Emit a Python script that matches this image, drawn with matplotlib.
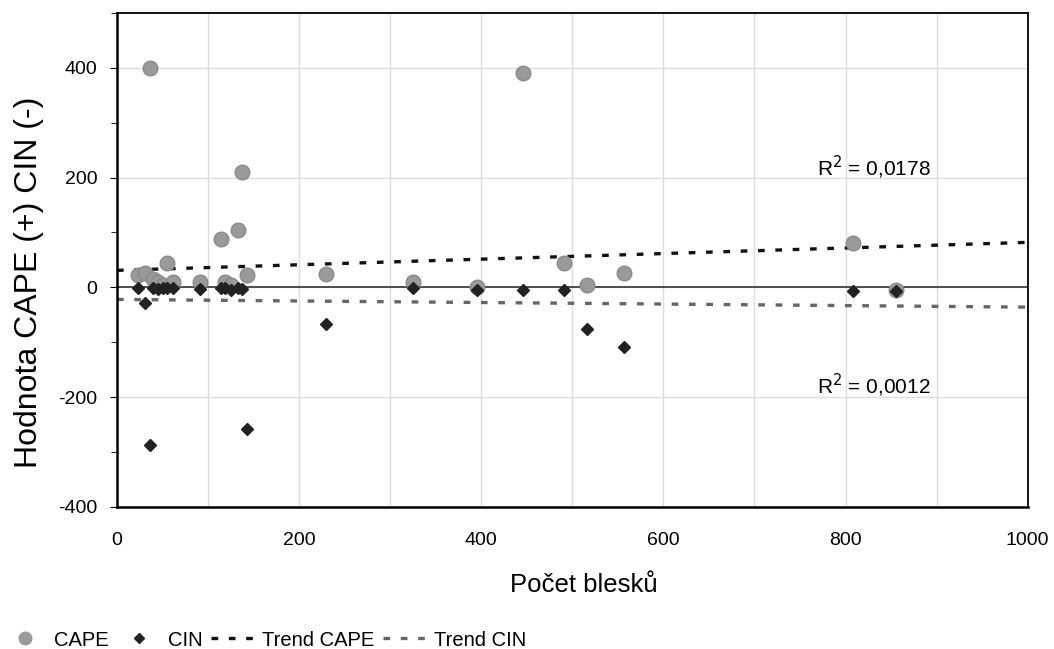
import numpy as np
import matplotlib.pyplot as plt
from matplotlib.lines import Line2D

plt.rcParams['font.family'] = ['Liberation Sans', 'DejaVu Sans']
plt.rcParams['axes.unicode_minus'] = False

# pocet blesku, CAPE (+) a CIN (-)
blesky = [23, 31, 36, 40, 45, 50, 55, 61, 91, 114, 119, 125, 133, 137, 143,
          230, 325, 395, 446, 491, 516, 557, 808, 855]
cape = [22, 27, 400, 15, 10, 5, 44, 9, 9, 89, 9, 5, 104, 210, 22,
        25, 9, 0, 390, 45, 4, 27, 80, -5]
cin = [-1, -28, -287, -2, -3, -1, -2, -1, -3, -2, -1, -4, -2, -3, -258,
       -67, -2, -4, -4, -4, -75, -108, -7, -7]

# trend (intercept, slope) as shown in the chart
trend_cape = (31, 0.051)
trend_cin = (-22, -0.014)
r2_cape = '0,0178'
r2_cin = '0,0012'

fig = plt.figure(figsize=(10.54, 6.49), dpi=100)
ax = fig.add_axes([0.111, 0.219, 0.864, 0.761])

ax.set_xlim(0, 1000)
ax.set_ylim(-400, 500)
ax.set_xticks(np.arange(0, 1001, 100), minor=True)
ax.set_xticks(np.arange(0, 1001, 200))
ax.set_yticks(np.arange(-400, 401, 200))
ax.set_yticks(np.arange(-400, 501, 100), minor=True)
ax.grid(True, axis='x', which='both', color='#dddddd', lw=1)
ax.grid(True, axis='y', which='major', color='#dddddd', lw=1)
ax.set_axisbelow(True)

ax.axhline(0, color='#333333', lw=1.2, zorder=1)

dash = (2.0, 3.2)
xt = np.array([0, 1000])
ax.plot(xt, trend_cape[0] + trend_cape[1] * xt, color='#111111', lw=2.4,
        dashes=dash, zorder=2)
ax.plot(xt, trend_cin[0] + trend_cin[1] * xt, color='#666666', lw=2.4,
        dashes=dash, zorder=2)

ax.plot(blesky, cape, 'o', color='#9a9a9a', ms=10.5, mec='#8a8a8a', zorder=3)
ax.plot(blesky, cin, 'D', color='#222222', ms=6.5, zorder=4)

ax.text(831, 218, 'R$^2$ = ' + r2_cape, fontsize=15, ha='center', va='center')
ax.text(831, -178, 'R$^2$ = ' + r2_cin, fontsize=15, ha='center', va='center')

for s in ['left', 'bottom']:
    ax.spines[s].set_linewidth(1.8)
for s in ['top', 'right']:
    ax.spines[s].set_linewidth(1.3)

ax.tick_params(axis='x', which='both', length=0, pad=18, labelsize=14)
ax.tick_params(axis='y', which='major', length=5, pad=9, labelsize=14)
ax.tick_params(axis='y', which='minor', length=4)

ax.set_xlabel('Počet blesků', fontsize=18.5)
ax.xaxis.set_label_coords(0.513, -0.133)
ax.set_ylabel('Hodnota CAPE (+) CIN (-)', fontsize=23)
ax.yaxis.set_label_coords(-0.08, 0.455)

handles = [
    Line2D([], [], ls='none', marker='o', color='#9a9a9a', ms=9),
    Line2D([], [], ls='none', marker='D', color='#222222', ms=5),
    Line2D([], [], color='#111111', lw=2.4, dashes=dash),
    Line2D([], [], color='#666666', lw=2.4, dashes=dash),
]
labels = ['CAPE', 'CIN', 'Trend CAPE', 'Trend CIN']
fig.legend(handles, labels, loc='center left',
           bbox_to_anchor=(3 / 1054, 1 - 640 / 649),
           ncol=4, frameon=False, fontsize=14.5, handlelength=2.2,
           handletextpad=0.35, columnspacing=0.4, borderpad=0,
           borderaxespad=0)

fig.savefig('out.png', dpi=100)
